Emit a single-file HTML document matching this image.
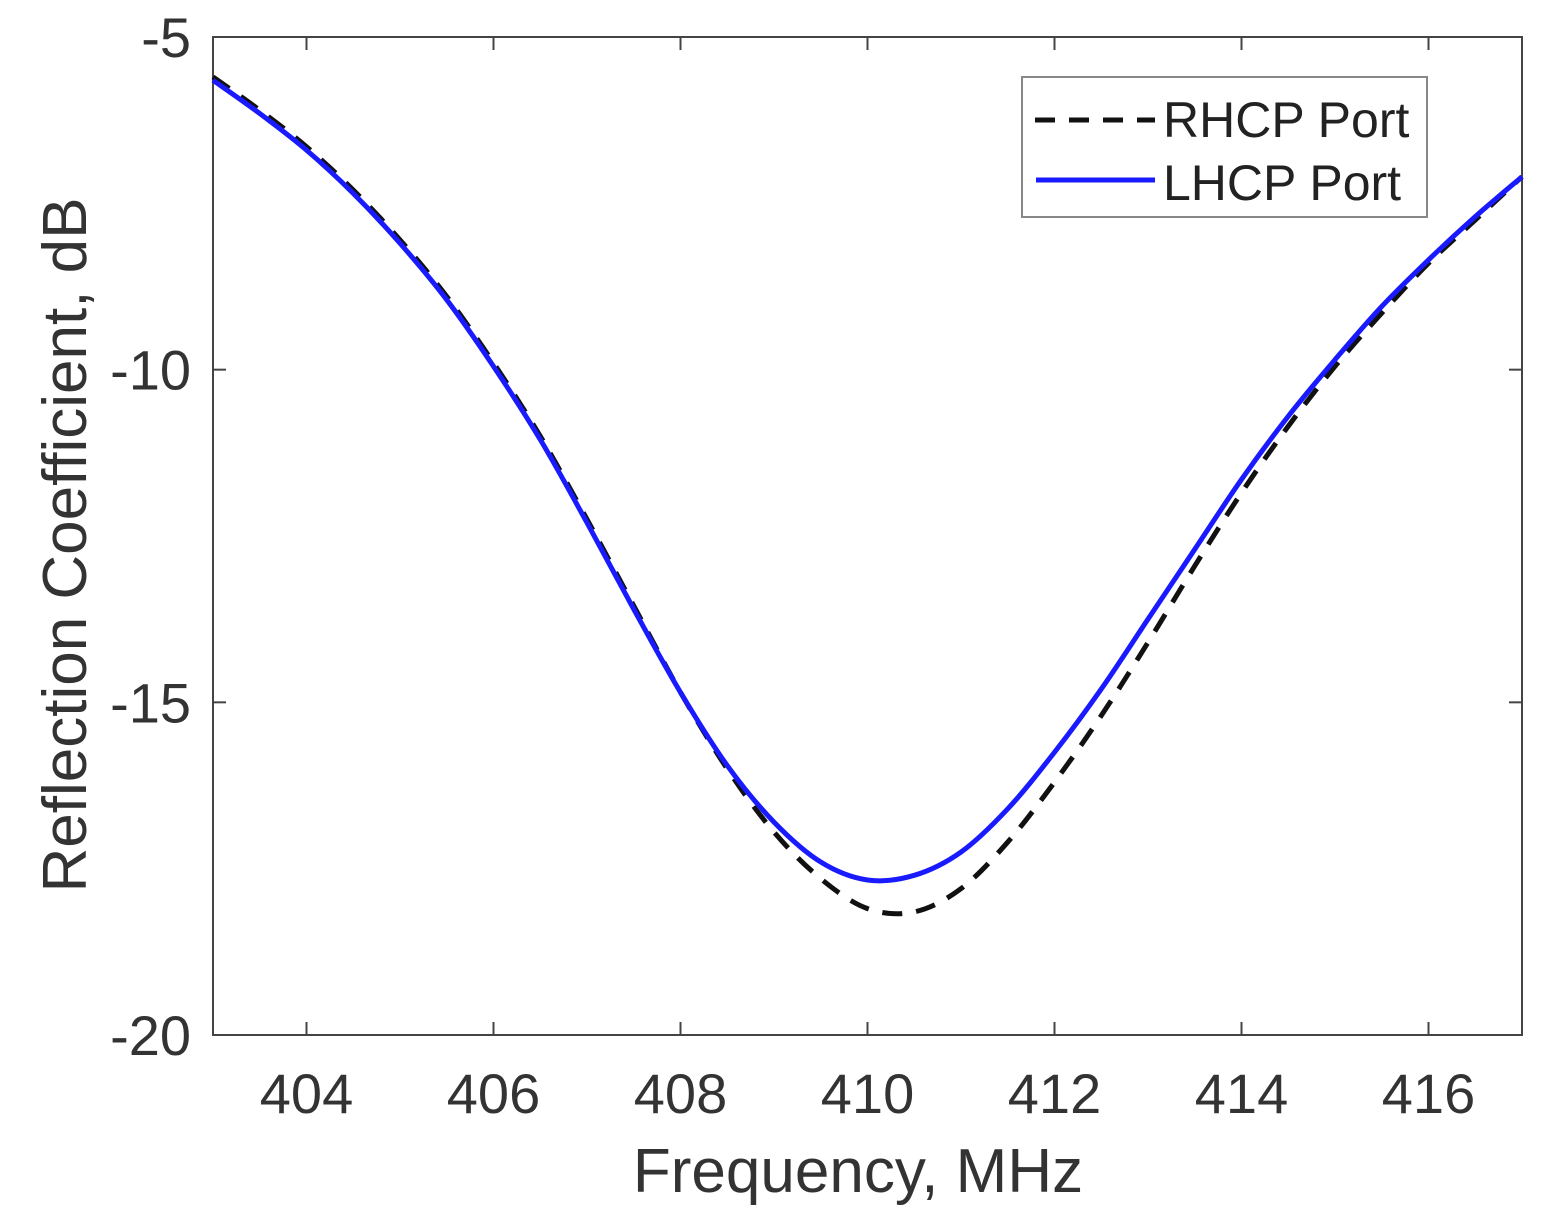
<!DOCTYPE html>
<html><head><meta charset="utf-8"><style>
html,body{margin:0;padding:0;background:#fff;}
svg{display:block;font-family:"Liberation Sans",Arial,sans-serif;}
</style></head><body>
<svg id="chart" width="1552" height="1222" viewBox="0 0 1552 1222"></svg>
<script>
const freqs = [403,403.5,404,404.5,405,405.5,406,406.5,407,407.5,408,408.5,409,409.5,410,410.5,411,411.5,412,412.5,413,413.5,414,414.5,415,415.5,416,416.5,417];
const lhcp = [-5.65,-6.15,-6.7,-7.35,-8.1,-8.95,-9.95,-11.05,-12.3,-13.6,-14.85,-15.95,-16.8,-17.4,-17.67,-17.6,-17.25,-16.6,-15.75,-14.8,-13.75,-12.7,-11.65,-10.7,-9.85,-9.05,-8.35,-7.7,-7.1];
const rhcp = [-5.6,-6.1,-6.65,-7.3,-8.05,-8.9,-9.9,-11.0,-12.25,-13.55,-14.85,-16.0,-16.95,-17.65,-18.1,-18.15,-17.8,-17.1,-16.2,-15.2,-14.1,-12.95,-11.85,-10.85,-9.95,-9.15,-8.4,-7.75,-7.1];
const xTicks = [404,406,408,410,412,414,416];
const yTicks = [-5,-10,-15,-20];

const L=213,R=1522,T=37,B=1035;
const xMin=403,xMax=417,yMin=-20,yMax=-5;
const sx=v=>L+(v-xMin)/(xMax-xMin)*(R-L);
const sy=v=>B-(v-yMin)/(yMax-yMin)*(B-T);
const svg=document.getElementById('chart');
const NS='http://www.w3.org/2000/svg';
function mk(tag,attrs,parent){const e=document.createElementNS(NS,tag);for(const k in attrs)e.setAttribute(k,attrs[k]);(parent||svg).appendChild(e);return e;}

const frame=mk('rect',{x:L,y:T,width:R-L,height:B-T,fill:'#fff',stroke:'#444','stroke-width':2});



xTicks.forEach(v=>{
  const x=sx(v);
  const t1=mk('line',{x1:x,x2:x,y1:B,y2:B-13,stroke:'#444','stroke-width':2});
  
  
  const t2=mk('line',{x1:x,x2:x,y1:T,y2:T+13,stroke:'#444','stroke-width':2});
  
  
  const lb=mk('text',{x:x,y:B+78,'text-anchor':'middle','font-size':56,fill:'#333'});
  lb.textContent=v;
  
  
});
yTicks.forEach(v=>{
  const y=sy(v);
  const t1=mk('line',{x1:L,x2:L+13,y1:y,y2:y,stroke:'#444','stroke-width':2});
  
  
  const t2=mk('line',{x1:R,x2:R-13,y1:y,y2:y,stroke:'#444','stroke-width':2});
  
  
  const lb=mk('text',{x:L-22,y:y+20,'text-anchor':'end','font-size':56,fill:'#333'});
  lb.textContent=v;
  
  
});

function pathFor(ys){
  const p=freqs.map((f,i)=>[sx(f),sy(ys[i])]);
  let d='M'+p[0][0]+','+p[0][1];
  for(let i=0;i<p.length-1;i++){
    const p0=p[i-1]||p[i],p1=p[i],p2=p[i+1],p3=p[i+2]||p2;
    const c1=[p1[0]+(p2[0]-p0[0])/6,p1[1]+(p2[1]-p0[1])/6];
    const c2=[p2[0]-(p3[0]-p1[0])/6,p2[1]-(p3[1]-p1[1])/6];
    d+=' C'+c1+' '+c2+' '+p2;
  }
  return d;
}
const r=mk('path',{d:pathFor(rhcp),fill:'none',stroke:'#111','stroke-width':5,'stroke-dasharray':'20 14'});


const l=mk('path',{d:pathFor(lhcp),fill:'none',stroke:'#1a1aff','stroke-width':5});



const lg=mk('g',{});


mk('rect',{x:1022,y:77,width:405,height:140,fill:'#fff',stroke:'#888','stroke-width':2},lg);
const e1=mk('line',{x1:1035,x2:1155,y1:120,y2:120,stroke:'#111','stroke-width':5,'stroke-dasharray':'20 14'},lg);


const tx1=mk('text',{x:1163,y:137,'font-size':50,fill:'#222'},lg);tx1.textContent='RHCP Port';


const e2=mk('line',{x1:1036,x2:1155,y1:180,y2:180,stroke:'#1a1aff','stroke-width':5},lg);


const tx2=mk('text',{x:1163,y:200,'font-size':50,fill:'#222'},lg);tx2.textContent='LHCP Port';



const xt=mk('text',{x:858,y:1192,'text-anchor':'middle','font-size':62,fill:'#333'});
xt.textContent='Frequency, MHz';


const yt=mk('text',{x:0,y:0,'text-anchor':'middle','font-size':62,fill:'#333',transform:'translate(86,545) rotate(-90)'});
yt.textContent='Reflection Coefficient, dB';


</script>
</body></html>
